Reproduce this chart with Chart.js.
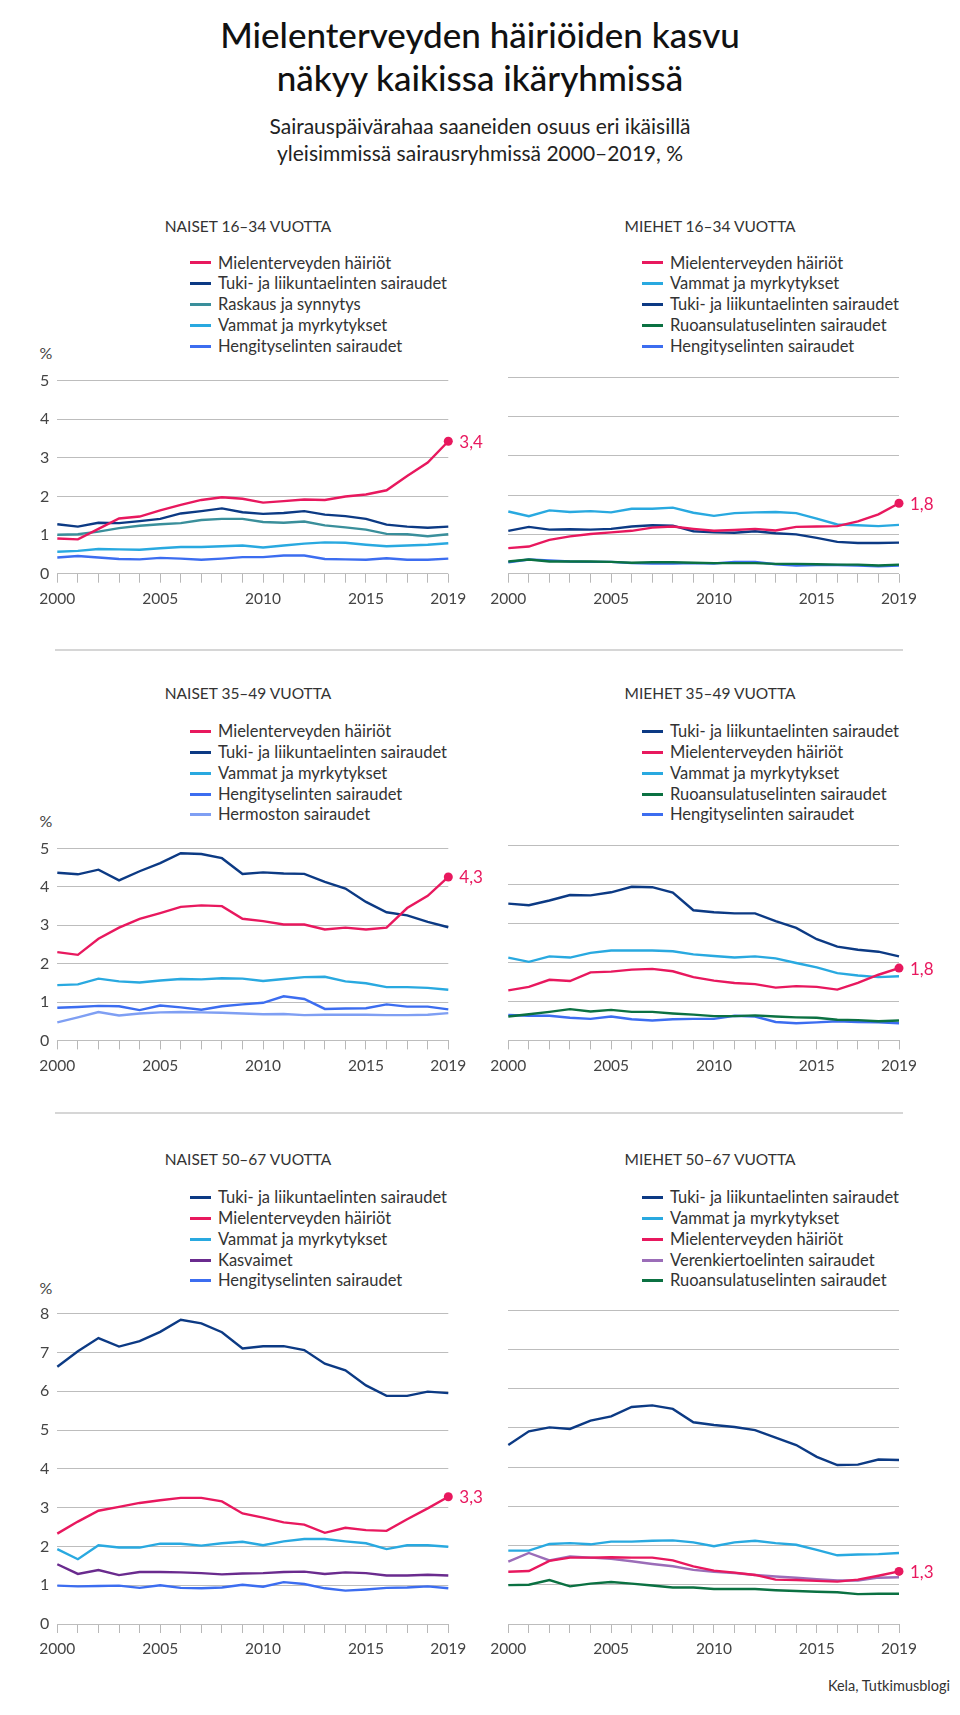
<!DOCTYPE html>
<html lang="fi">
<head>
<meta charset="utf-8">
<title>Mielenterveyden häiriöiden kasvu näkyy kaikissa ikäryhmissä</title>
<script src="https://cdn.jsdelivr.net/npm/chart.js@4.4.1/dist/chart.umd.min.js"></script>
<style>
  body { margin: 0; background: #fff; font-family: Lato, 'Liberation Sans', sans-serif; color: #222; }
  #page { position: relative; width: 960px; height: 1715px; overflow: hidden; }
  h1 { position: absolute; top: 13px; left: 0; width: 960px; margin: 0; text-align: center;
       font-size: 35px; line-height: 43px; font-weight: 500; color: #111; }
  .sub { position: absolute; top: 111.5px; left: 0; width: 960px; text-align: center;
         font-size: 21px; line-height: 27px; color: #222; }
  .ptitle { position: absolute; font-size: 15.5px; color: #333; transform: translate(-50%, -50%); white-space: nowrap; }
  .legend { position: absolute; font-size: 16.5px; color: #333; }
  .legend div { height: 20.8px; line-height: 20.8px; white-space: nowrap; position: relative; padding-left: 28px; }
  .legend span { position: absolute; left: 0; top: 50%; width: 21px; height: 3px; margin-top: -1.5px; }
  .pct { position: absolute; font-size: 16px; color: #444; transform: translate(-50%, -50%); }
  canvas { position: absolute; }
  .sep { position: absolute; left: 55px; width: 848px; height: 2px; background: #d6d6d6; }
  .src { position: absolute; right: 10px; top: 1677px; font-size: 14.5px; color: #333; }
</style>
</head>
<body>
<div id="page">
  <h1>Mielenterveyden häiriöiden kasvu<br>näkyy kaikissa ikäryhmissä</h1>
  <div class="sub">Sairauspäivärahaa saaneiden osuus eri ikäisillä<br>yleisimmissä sairausryhmissä 2000–2019, %</div>
  <div class="sep" style="top:649px"></div>
  <div class="sep" style="top:1112px"></div>
  <div class="src">Kela, Tutkimusblogi</div>
</div>
<script>
// Years on the x axis
const years = ['2000', '2001', '2002', '2003', '2004', '2005', '2006', '2007', '2008', '2009',
               '2010', '2011', '2012', '2013', '2014', '2015', '2016', '2017', '2018', '2019'];
const shownYears = ['2000', '2005', '2010', '2015', '2019'];

// Naiset 16–34
const n1Mielen = [0.91, 0.89, 1.16, 1.43, 1.48, 1.64, 1.78, 1.91, 1.98, 1.94, 1.84, 1.88, 1.92, 1.91, 2.00, 2.05, 2.16, 2.53, 2.88, 3.43];
const n1Tuki = [1.28, 1.22, 1.32, 1.31, 1.36, 1.42, 1.56, 1.62, 1.69, 1.59, 1.55, 1.57, 1.62, 1.53, 1.49, 1.42, 1.27, 1.22, 1.19, 1.22];
const n1Raskaus = [1.01, 1.02, 1.09, 1.18, 1.24, 1.28, 1.31, 1.39, 1.42, 1.42, 1.34, 1.32, 1.35, 1.25, 1.20, 1.14, 1.03, 1.02, 0.97, 1.02];
const n1Vammat = [0.57, 0.59, 0.64, 0.63, 0.62, 0.66, 0.69, 0.69, 0.71, 0.73, 0.68, 0.73, 0.78, 0.81, 0.80, 0.75, 0.71, 0.73, 0.75, 0.79];
const n1Hengitys = [0.42, 0.46, 0.42, 0.38, 0.37, 0.41, 0.39, 0.36, 0.39, 0.43, 0.43, 0.47, 0.47, 0.38, 0.37, 0.36, 0.40, 0.36, 0.36, 0.39];

// Miehet 16–34
const m1Mielen = [0.65, 0.69, 0.86, 0.95, 1.01, 1.05, 1.09, 1.17, 1.20, 1.14, 1.09, 1.11, 1.14, 1.10, 1.19, 1.20, 1.21, 1.33, 1.51, 1.79];
const m1Vammat = [1.58, 1.46, 1.61, 1.57, 1.59, 1.56, 1.65, 1.65, 1.68, 1.55, 1.47, 1.54, 1.56, 1.57, 1.54, 1.40, 1.25, 1.23, 1.21, 1.24];
const m1Tuki = [1.09, 1.19, 1.12, 1.13, 1.12, 1.14, 1.20, 1.23, 1.22, 1.08, 1.05, 1.04, 1.08, 1.03, 1.00, 0.91, 0.81, 0.78, 0.78, 0.79];
const m1Ruoka = [0.31, 0.36, 0.31, 0.31, 0.31, 0.30, 0.28, 0.29, 0.29, 0.28, 0.27, 0.27, 0.27, 0.25, 0.25, 0.24, 0.23, 0.23, 0.21, 0.23];
const m1Hengitys = [0.29, 0.36, 0.34, 0.31, 0.30, 0.30, 0.27, 0.26, 0.26, 0.27, 0.26, 0.30, 0.30, 0.24, 0.21, 0.22, 0.22, 0.21, 0.19, 0.21];

// Naiset 35–49
const n2Mielen = [2.30, 2.23, 2.65, 2.94, 3.17, 3.32, 3.48, 3.52, 3.50, 3.17, 3.11, 3.02, 3.02, 2.89, 2.94, 2.89, 2.94, 3.45, 3.77, 4.26];
const n2Tuki = [4.37, 4.33, 4.45, 4.17, 4.41, 4.62, 4.88, 4.86, 4.75, 4.34, 4.38, 4.35, 4.34, 4.13, 3.96, 3.61, 3.34, 3.26, 3.09, 2.95];
const n2Vammat = [1.44, 1.46, 1.61, 1.54, 1.51, 1.56, 1.60, 1.59, 1.62, 1.61, 1.55, 1.60, 1.65, 1.66, 1.54, 1.49, 1.39, 1.39, 1.37, 1.32];
const n2Hengitys = [0.85, 0.87, 0.90, 0.89, 0.79, 0.91, 0.86, 0.80, 0.89, 0.94, 0.98, 1.15, 1.08, 0.82, 0.83, 0.84, 0.94, 0.88, 0.88, 0.81];
const n2Hermosto = [0.47, 0.60, 0.74, 0.65, 0.70, 0.73, 0.74, 0.73, 0.72, 0.70, 0.68, 0.69, 0.66, 0.67, 0.67, 0.67, 0.66, 0.66, 0.67, 0.71];

// Miehet 35–49
const m2Tuki = [3.50, 3.46, 3.58, 3.72, 3.71, 3.79, 3.93, 3.92, 3.78, 3.33, 3.28, 3.25, 3.25, 3.05, 2.88, 2.59, 2.40, 2.32, 2.27, 2.15];
const m2Mielen = [1.28, 1.37, 1.55, 1.52, 1.74, 1.76, 1.81, 1.83, 1.77, 1.62, 1.53, 1.47, 1.44, 1.35, 1.39, 1.37, 1.30, 1.47, 1.68, 1.85];
const m2Vammat = [2.12, 2.01, 2.15, 2.12, 2.24, 2.30, 2.30, 2.30, 2.28, 2.20, 2.16, 2.12, 2.15, 2.10, 1.98, 1.87, 1.72, 1.66, 1.62, 1.64];
const m2Ruoka = [0.61, 0.67, 0.73, 0.80, 0.74, 0.78, 0.73, 0.73, 0.69, 0.66, 0.62, 0.62, 0.64, 0.61, 0.59, 0.58, 0.53, 0.52, 0.49, 0.51];
const m2Hengitys = [0.65, 0.63, 0.63, 0.58, 0.55, 0.61, 0.54, 0.51, 0.54, 0.55, 0.55, 0.63, 0.61, 0.47, 0.44, 0.46, 0.49, 0.47, 0.46, 0.44];

// Naiset 50–67
const n3Tuki = [6.63, 7.03, 7.37, 7.15, 7.29, 7.53, 7.84, 7.75, 7.52, 7.10, 7.16, 7.16, 7.06, 6.71, 6.54, 6.15, 5.88, 5.88, 5.99, 5.95];
const n3Mielen = [2.33, 2.64, 2.92, 3.02, 3.12, 3.19, 3.25, 3.25, 3.16, 2.85, 2.74, 2.62, 2.56, 2.35, 2.48, 2.42, 2.40, 2.70, 2.98, 3.28];
const n3Vammat = [1.93, 1.67, 2.03, 1.97, 1.97, 2.07, 2.07, 2.02, 2.08, 2.12, 2.03, 2.13, 2.19, 2.19, 2.13, 2.08, 1.93, 2.03, 2.03, 1.99];
const n3Kasvaimet = [1.54, 1.29, 1.39, 1.26, 1.34, 1.34, 1.33, 1.31, 1.28, 1.30, 1.31, 1.34, 1.35, 1.29, 1.33, 1.31, 1.25, 1.25, 1.27, 1.25];
const n3Hengitys = [0.99, 0.97, 0.98, 0.99, 0.93, 1.00, 0.93, 0.92, 0.94, 1.01, 0.96, 1.08, 1.03, 0.92, 0.86, 0.89, 0.93, 0.94, 0.97, 0.92];

// Miehet 50–67
const m3Tuki = [4.56, 4.91, 5.01, 4.97, 5.18, 5.29, 5.53, 5.57, 5.48, 5.14, 5.07, 5.02, 4.94, 4.75, 4.56, 4.26, 4.05, 4.06, 4.19, 4.18];
const m3Vammat = [1.87, 1.87, 2.04, 2.06, 2.03, 2.10, 2.10, 2.12, 2.13, 2.08, 1.98, 2.08, 2.12, 2.06, 2.02, 1.89, 1.75, 1.77, 1.78, 1.81];
const m3Mielen = [1.33, 1.35, 1.61, 1.69, 1.69, 1.70, 1.69, 1.69, 1.62, 1.47, 1.36, 1.31, 1.25, 1.13, 1.12, 1.10, 1.08, 1.13, 1.23, 1.34];
const m3Verenkierto = [1.59, 1.81, 1.62, 1.72, 1.69, 1.66, 1.60, 1.53, 1.47, 1.38, 1.33, 1.30, 1.25, 1.21, 1.18, 1.14, 1.11, 1.11, 1.18, 1.19];
const m3Ruoka = [0.99, 1.00, 1.12, 0.96, 1.03, 1.07, 1.03, 0.98, 0.93, 0.93, 0.89, 0.89, 0.89, 0.86, 0.84, 0.82, 0.81, 0.76, 0.77, 0.77];

// Series names and colours
const MIELEN = 'Mielenterveyden häiriöt';
const TUKI = 'Tuki- ja liikuntaelinten sairaudet';
const RASKAUS = 'Raskaus ja synnytys';
const VAMMAT = 'Vammat ja myrkytykset';
const HENGITYS = 'Hengityselinten sairaudet';
const HERMOSTO = 'Hermoston sairaudet';
const RUOKA = 'Ruoansulatuselinten sairaudet';
const KASVAIMET = 'Kasvaimet';
const VERENKIERTO = 'Verenkiertoelinten sairaudet';

const colors = {
    [MIELEN]: '#e8185e',
    [TUKI]: '#0c3a84',
    [RASKAUS]: '#3a8f9b',
    [VAMMAT]: '#29a9e0',
    [HENGITYS]: '#3c6df0',
    [HERMOSTO]: '#7f9ff3',
    [RUOKA]: '#0b7142',
    [KASVAIMET]: '#6a2b8e',
    [VERENKIERTO]: '#9b6db8'
};

const fontFamily = 'Lato, "Liberation Sans", sans-serif';

// Row and column geometry
const rows = [
    { titleY: 226, legendY: 263, pctY: 352, top: 377.3, bottom: 574, yMax: 5 },
    { titleY: 693, legendY: 731.7, pctY: 820, top: 845.3, bottom: 1040.7, yMax: 5 },
    { titleY: 1159, legendY: 1197.7, pctY: 1286.7, top: 1310.3, bottom: 1624.3, yMax: 8 }
];
const cols = [
    { titleX: 248, legendX: 190, left: 0, width: 500, chartLeft: 57.3, chartRight: 448.3, yLabels: true },
    { titleX: 710, legendX: 642, left: 470, width: 490, chartLeft: 508.3, chartRight: 899, yLabels: false }
];

const panels = [
    { title: 'NAISET 16–34 VUOTTA', row: 0, col: 0, endText: '3,4',
      series: [[MIELEN, n1Mielen], [TUKI, n1Tuki], [RASKAUS, n1Raskaus], [VAMMAT, n1Vammat], [HENGITYS, n1Hengitys]] },
    { title: 'MIEHET 16–34 VUOTTA', row: 0, col: 1, endText: '1,8',
      series: [[MIELEN, m1Mielen], [VAMMAT, m1Vammat], [TUKI, m1Tuki], [RUOKA, m1Ruoka], [HENGITYS, m1Hengitys]] },
    { title: 'NAISET 35–49 VUOTTA', row: 1, col: 0, endText: '4,3',
      series: [[MIELEN, n2Mielen], [TUKI, n2Tuki], [VAMMAT, n2Vammat], [HENGITYS, n2Hengitys], [HERMOSTO, n2Hermosto]] },
    { title: 'MIEHET 35–49 VUOTTA', row: 1, col: 1, endText: '1,8',
      series: [[TUKI, m2Tuki], [MIELEN, m2Mielen], [VAMMAT, m2Vammat], [RUOKA, m2Ruoka], [HENGITYS, m2Hengitys]] },
    { title: 'NAISET 50–67 VUOTTA', row: 2, col: 0, endText: '3,3',
      series: [[TUKI, n3Tuki], [MIELEN, n3Mielen], [VAMMAT, n3Vammat], [KASVAIMET, n3Kasvaimet], [HENGITYS, n3Hengitys]] },
    { title: 'MIEHET 50–67 VUOTTA', row: 2, col: 1, endText: '1,3',
      series: [[TUKI, m3Tuki], [VAMMAT, m3Vammat], [MIELEN, m3Mielen], [VERENKIERTO, m3Verenkierto], [RUOKA, m3Ruoka]] }
];

// Draws the last value of the mental health series next to its end point
const endLabel = {
    id: 'endLabel',
    afterDatasetsDraw(chart, args, opts) {
        const meta = chart.getDatasetMeta(opts.index);
        const pt = meta.data[meta.data.length - 1];
        const ctx = chart.ctx;
        ctx.save();
        ctx.fillStyle = opts.color;
        ctx.font = '17px ' + fontFamily;
        ctx.textBaseline = 'middle';
        ctx.fillText(opts.text, pt.x + 11, pt.y + 1);
        ctx.restore();
    }
};

const page = document.getElementById('page');

function addDiv(cls, text, x, y) {
    const d = document.createElement('div');
    d.className = cls;
    d.textContent = text;
    d.style.left = x + 'px';
    d.style.top = y + 'px';
    page.appendChild(d);
    return d;
}

panels.forEach(panel => {
    const row = rows[panel.row];
    const col = cols[panel.col];

    addDiv('ptitle', panel.title, col.titleX, row.titleY);

    // Legend
    const legend = document.createElement('div');
    legend.className = 'legend';
    legend.style.left = col.legendX + 'px';
    legend.style.top = (row.legendY - 10.4) + 'px';
    panel.series.forEach(([name]) => {
        const item = document.createElement('div');
        item.innerHTML = `<span style="background:${colors[name]}"></span>${name}`;
        legend.appendChild(item);
    });
    page.appendChild(legend);

    if (col.yLabels) addDiv('pct', '%', 46, row.pctY);

    // Canvas
    const padTop = 14;
    const xHeight = 40;
    const canvas = document.createElement('canvas');
    canvas.width = col.width;
    canvas.height = Math.round(padTop + (row.bottom - row.top) + xHeight);
    canvas.style.left = col.left + 'px';
    canvas.style.top = (row.top - padTop) + 'px';
    page.appendChild(canvas);

    const mielenIndex = panel.series.findIndex(s => s[0] === MIELEN);
    const last = years.length - 1;

    new Chart(canvas, {
        type: 'line',
        data: {
            labels: years,
            datasets: panel.series.map(([name, values], i) => ({
                label: name,
                data: values,
                borderColor: colors[name],
                backgroundColor: colors[name],
                borderWidth: 2.4,
                tension: 0,
                clip: false,
                pointRadius: i === mielenIndex ? years.map((y, j) => j === last ? 4.5 : 0) : 0,
                pointHoverRadius: 0,
                pointBorderWidth: 0
            }))
        },
        options: {
            responsive: false,
            animation: false,
            layout: {
                padding: { top: padTop, bottom: canvas.height - padTop - (row.bottom - row.top) - xHeight, left: 0, right: (col.left + col.width) - col.chartRight }
            },
            scales: {
                x: {
                    grid: { drawOnChartArea: false, drawTicks: true, tickLength: 9, color: '#b8b8b8' },
                    border: { display: false },
                    ticks: {
                        autoSkip: false,
                        maxRotation: 0,
                        padding: 7,
                        color: '#444',
                        font: { family: fontFamily, size: 15.5 },
                        callback: function (value, index) {
                            return shownYears.includes(years[index]) ? years[index] : '';
                        }
                    },
                    afterFit(scale) { scale.height = xHeight; }
                },
                y: {
                    min: 0,
                    max: row.yMax,
                    grid: { color: '#bdbdbd', drawTicks: false },
                    border: { display: false },
                    ticks: {
                        stepSize: 1,
                        display: col.yLabels,
                        padding: 8,
                        color: '#444',
                        font: { family: fontFamily, size: 16 }
                    },
                    afterFit(scale) { scale.width = col.chartLeft - col.left; }
                }
            },
            plugins: {
                legend: { display: false },
                tooltip: { enabled: false },
                endLabel: { index: mielenIndex, text: panel.endText, color: colors[MIELEN] }
            }
        },
        plugins: [endLabel]
    });
});
</script>
</body>
</html>
